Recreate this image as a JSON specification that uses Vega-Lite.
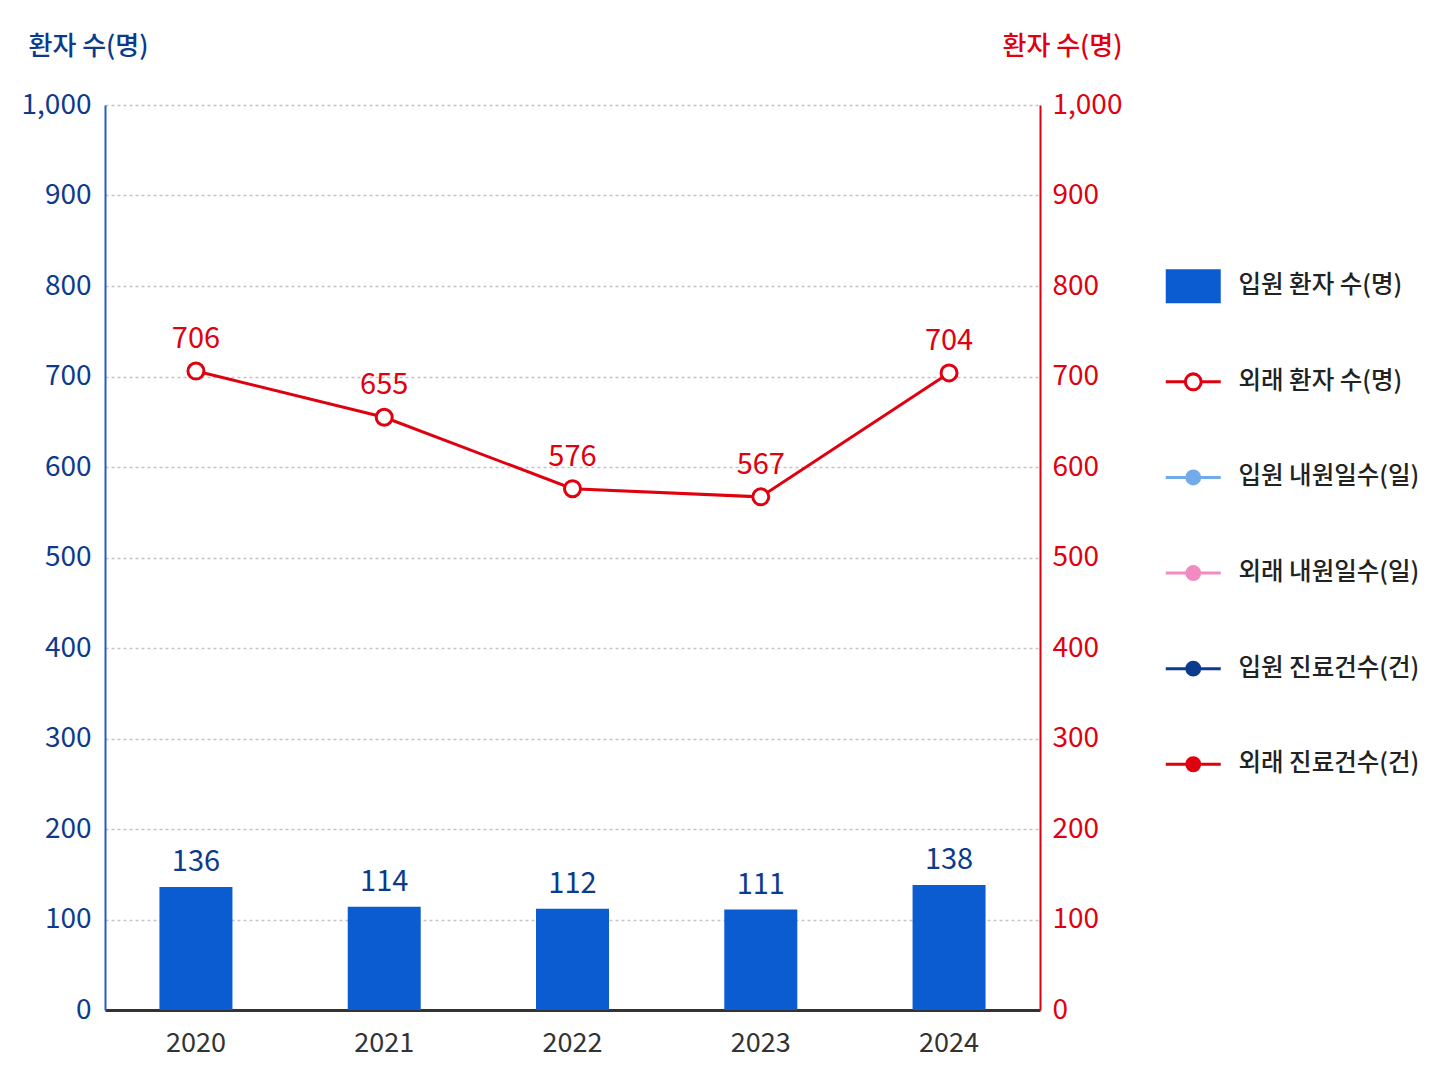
{
  "$schema": "https://vega.github.io/schema/vega-lite/v6.json",
  "autosize": "none",
  "padding": {"left": 105, "top": 105, "right": 408, "bottom": 76},
  "width": 935,
  "height": 905,
  "background": "white",
  "config": {
    "font": "Noto Sans CJK KR",
    "view": {"stroke": null},
    "axis": {"labelFont": "Noto Sans CJK KR", "titleFont": "Noto Sans CJK KR"}
  },
  "datasets": {
    "main": [
      {"year": "2020", "series": "입원 환자 수(명)", "value": 136},
      {"year": "2021", "series": "입원 환자 수(명)", "value": 114},
      {"year": "2022", "series": "입원 환자 수(명)", "value": 112},
      {"year": "2023", "series": "입원 환자 수(명)", "value": 111},
      {"year": "2024", "series": "입원 환자 수(명)", "value": 138},
      {"year": "2020", "series": "외래 환자 수(명)", "value": 706},
      {"year": "2021", "series": "외래 환자 수(명)", "value": 655},
      {"year": "2022", "series": "외래 환자 수(명)", "value": 576},
      {"year": "2023", "series": "외래 환자 수(명)", "value": 567},
      {"year": "2024", "series": "외래 환자 수(명)", "value": 704}
    ]
  },
  "data": {"name": "main"},
  "encoding": {
    "x": {
      "field": "year", "type": "nominal",
      "scale": {"paddingInner": 0.6, "paddingOuter": 0.283},
      "axis": {
        "title": null, "labelAngle": 0, "labelFontSize": 27, "labelColor": "#333333",
        "labelPadding": 20, "ticks": false, "domainColor": "#333333", "domainWidth": 3,
        "grid": false
      }
    }
  },
  "layer": [
    {
      "layer": [
        {
          "transform": [{"filter": "datum.series === '입원 환자 수(명)'"}],
          "mark": {"type": "bar", "size": 73},
          "encoding": {
            "y": {
              "field": "value", "type": "quantitative",
              "scale": {"domain": [0, 1000]},
              "axis": {
                "title": "환자 수(명)", "titleAngle": 0, "titleX": -17, "titleY": -59,
                "titleAlign": "center", "titleBaseline": "middle", "titleFontSize": 26,
                "titleFontWeight": 500, "titleColor": "#0c3a8c",
                "values": [0, 100, 200, 300, 400, 500, 600, 700, 800, 900, 1000],
                "format": ",d", "labelFontSize": 28, "labelColor": "#0c3a8c", "labelPadding": 14,
                "ticks": false, "domainColor": "#2a5cc4", "domainWidth": 2,
                "grid": true, "gridColor": "#c4c4c4", "gridDash": [3, 3], "gridWidth": 1.5
              }
            },
            "color": {
              "field": "series", "type": "nominal",
              "scale": {
                "domain": ["입원 환자 수(명)", "외래 환자 수(명)", "입원 내원일수(일)", "외래 내원일수(일)", "입원 진료건수(건)", "외래 진료건수(건)"],
                "range": ["#0a5cd0", "#e0000f", "#72ace8", "#f08cc0", "#0c3a8c", "#e0000f"]
              },
              "legend": {
                "title": null, "orient": "none", "legendX": 1076, "legendY": 169,
                "symbolSize": 289, "symbolStrokeWidth": 3, "labelOffset": 33,
                "labelFontSize": 24.5, "labelColor": "#222222", "labelFontWeight": 500,
                "rowPadding": 63.6, "gridAlign": "all", "padding": 0, "labelLimit": 400,
                "encode": {
                  "symbols": {
                    "update": {
                      "shape": {"signal": "datum.value === '입원 환자 수(명)' ? 'M-3.235,-2H3.235V2H-3.235Z' : (datum.value === '외래 환자 수(명)' ? 'M-3.235,0H-0.94M0.94,0H3.235M0.94,0A0.94,0.94 0 1,1 -0.94,0A0.94,0.94 0 1,1 0.94,0ZM0.93,0A0.93,0.93 0 1,0 -0.93,0A0.93,0.93 0 1,0 0.93,0Z' : 'M-3.235,0H3.235M0.76,0A0.76,0.76 0 1,1 -0.76,0A0.76,0.76 0 1,1 0.76,0Z')"},
                      "fill": {"signal": "datum.value === '외래 환자 수(명)' ? '#ffffff' : scale('color', datum.value)"},
                      "stroke": {"signal": "scale('color', datum.value)"},
                      "strokeWidth": {"signal": "datum.value === '입원 환자 수(명)' ? 0 : 3"},
                      "opacity": {"value": 1},
                      "fillOpacity": {"value": 1},
                      "strokeOpacity": {"value": 1}
                    }
                  }
                }
              }
            }
          }
        },
        {
          "transform": [{"filter": "datum.series === '입원 환자 수(명)'"}],
          "mark": {"type": "text", "fontSize": 29, "color": "#0c3a8c", "baseline": "middle", "dy": -25},
          "encoding": {
            "y": {"field": "value", "type": "quantitative", "scale": {"domain": [0, 1000]}},
            "text": {"field": "value", "type": "quantitative"}
          }
        }
      ]
    },
    {
      "layer": [
        {
          "transform": [{"filter": "datum.series === '외래 환자 수(명)'"}],
          "mark": {"type": "line", "color": "#e0000f", "strokeWidth": 3,
            "point": {"filled": false, "fill": "white", "stroke": "#e0000f", "size": 256, "strokeWidth": 3}},
          "encoding": {
            "y": {
              "field": "value", "type": "quantitative",
              "scale": {"domain": [0, 1000]},
              "axis": {
                "orient": "right",
                "title": "환자 수(명)", "titleAngle": 0, "titleX": 22, "titleY": -59,
                "titleAlign": "center", "titleBaseline": "middle", "titleFontSize": 26,
                "titleFontWeight": 500, "titleColor": "#e0000f",
                "values": [0, 100, 200, 300, 400, 500, 600, 700, 800, 900, 1000],
                "format": ",d", "labelFontSize": 28, "labelColor": "#e0000f", "labelPadding": 12,
                "ticks": false, "domainColor": "#e0000f", "domainWidth": 2, "grid": false
              }
            }
          }
        },
        {
          "transform": [{"filter": "datum.series === '외래 환자 수(명)'"}],
          "mark": {"type": "text", "fontSize": 29, "color": "#e0000f", "baseline": "middle", "dy": -32},
          "encoding": {
            "y": {"field": "value", "type": "quantitative", "scale": {"domain": [0, 1000]}},
            "text": {"field": "value", "type": "quantitative"}
          }
        }
      ]
    }
  ],
  "resolve": {"scale": {"y": "independent"}}
}
